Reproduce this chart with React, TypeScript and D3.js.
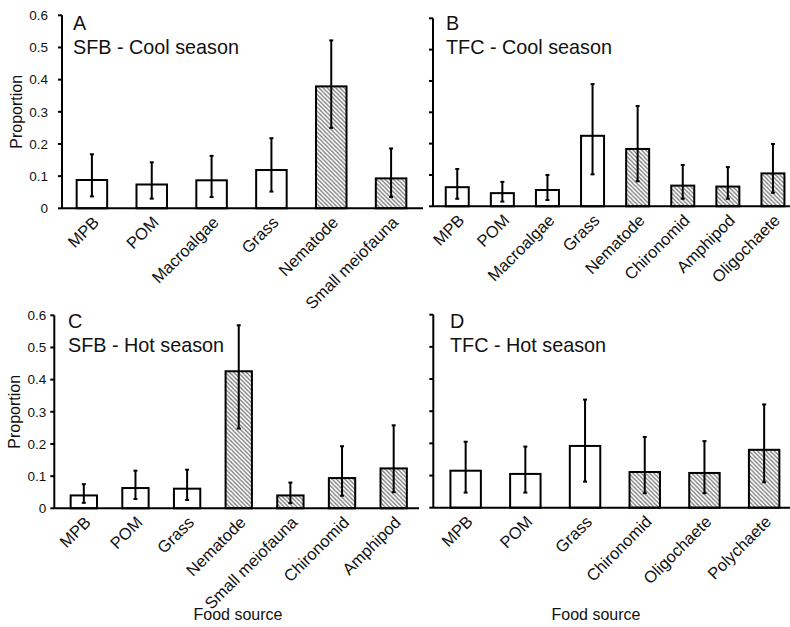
import React from "react";
import * as d3 from "d3";

// ---------- data ----------
const categoriesA = ["MPB", "POM", "Macroalgae", "Grass", "Nematode", "Small meiofauna"];
const valuesA = [0.088, 0.074, 0.087, 0.119, 0.379, 0.093];
const upperA = [0.168, 0.143, 0.163, 0.218, 0.522, 0.186];
const lowerA = [0.037, 0.03, 0.035, 0.052, 0.25, 0.035];
const hatchedA = [false, false, false, false, true, true];

const categoriesB = ["MPB", "POM", "Macroalgae", "Grass", "Nematode", "Chironomid", "Amphipod", "Oligochaete"];
const valuesB = [0.061, 0.042, 0.052, 0.225, 0.183, 0.066, 0.063, 0.105];
const upperB = [0.119, 0.078, 0.1, 0.39, 0.32, 0.132, 0.125, 0.199];
const lowerB = [0.024, 0.015, 0.02, 0.102, 0.08, 0.024, 0.024, 0.043];
const hatchedB = [false, false, false, false, true, true, true, true];

const categoriesC = ["MPB", "POM", "Grass", "Nematode", "Small meiofauna", "Chironomid", "Amphipod"];
const valuesC = [0.04, 0.063, 0.061, 0.426, 0.04, 0.094, 0.124];
const upperC = [0.075, 0.117, 0.12, 0.569, 0.08, 0.193, 0.258];
const lowerC = [0.017, 0.029, 0.026, 0.248, 0.016, 0.039, 0.05];
const hatchedC = [false, false, false, true, true, true, true];

const categoriesD = ["MPB", "POM", "Grass", "Chironomid", "Oligochaete", "Polychaete"];
const valuesD = [0.115, 0.105, 0.192, 0.111, 0.108, 0.18];
const upperD = [0.205, 0.19, 0.336, 0.22, 0.207, 0.321];
const lowerD = [0.047, 0.047, 0.081, 0.045, 0.045, 0.079];
const hatchedD = [false, false, false, true, true, true];

const yTicks = [0, 0.1, 0.2, 0.3, 0.4, 0.5, 0.6];
const yTickLabels = ["0", "0.1", "0.2", "0.3", "0.4", "0.5", "0.6"];

const FONT = "'Liberation Sans', Arial, sans-serif";

type PanelSpec = {
  letter: string;
  title: string;
  cats: string[];
  vals: number[];
  hi: number[];
  lo: number[];
  hatch: boolean[];
  axisX: number;
  bandRange: [number, number];
  axisEnd: number;
  y0: number;
  yTop: number;
  showTickLabels: boolean;
  showYTitle: boolean;
  showXTitle: boolean;
  letterX: number;
  letterY: number;
  xTitleX: number;
  yTitleX: number;
};

const panels: PanelSpec[] = [
  {
    letter: "A", title: "SFB - Cool season",
    cats: categoriesA, vals: valuesA, hi: upperA, lo: lowerA, hatch: hatchedA,
    axisX: 62, bandRange: [62, 421], axisEnd: 423, y0: 208.3, yTop: 15.3,
    showTickLabels: true, showYTitle: true, showXTitle: false,
    letterX: 73, letterY: 30, xTitleX: 0, yTitleX: 22,
  },
  {
    letter: "B", title: "TFC - Cool season",
    cats: categoriesB, vals: valuesB, hi: upperB, lo: lowerB, hatch: hatchedB,
    axisX: 433, bandRange: [434.7, 795.5], axisEnd: 795, y0: 206.3, yTop: 18.3,
    showTickLabels: false, showYTitle: false, showXTitle: false,
    letterX: 446, letterY: 30, xTitleX: 0, yTitleX: 0,
  },
  {
    letter: "C", title: "SFB - Hot season",
    cats: categoriesC, vals: valuesC, hi: upperC, lo: lowerC, hatch: hatchedC,
    axisX: 54.3, bandRange: [58, 419.5], axisEnd: 419, y0: 508.3, yTop: 315.3,
    showTickLabels: true, showYTitle: true, showXTitle: true,
    letterX: 68, letterY: 328, xTitleX: 238, yTitleX: 20,
  },
  {
    letter: "D", title: "TFC - Hot season",
    cats: categoriesD, vals: valuesD, hi: upperD, lo: lowerD, hatch: hatchedD,
    axisX: 433.3, bandRange: [435.8, 794], axisEnd: 795, y0: 507.7, yTop: 314.7,
    showTickLabels: false, showYTitle: false, showXTitle: true,
    letterX: 450, letterY: 328, xTitleX: 596, yTitleX: 0,
  },
];

function Panel({ p }: { p: PanelSpec }) {
  const x = d3.scaleBand<string>().domain(p.cats).range(p.bandRange).paddingInner(0.49).paddingOuter(0.245);
  const y = d3.scaleLinear().domain([0, 0.6]).range([p.y0, p.yTop]);
  const bw = x.bandwidth();
  return (
    <g>
      {p.cats.map((c, i) => (
        <rect
          key={"b" + c}
          x={x(c)}
          y={y(p.vals[i])}
          width={bw}
          height={y(0) - y(p.vals[i])}
          fill={p.hatch[i] ? "url(#hatch)" : "#fff"}
          stroke="#000"
          strokeWidth={2}
        />
      ))}
      {p.cats.map((c, i) => {
        const cx = (x(c) as number) + bw / 2;
        return (
          <g key={"e" + c} stroke="#000" strokeWidth={2}>
            <line x1={cx} x2={cx} y1={y(p.lo[i])} y2={y(p.hi[i])} />
            <line x1={cx - 2} x2={cx + 2} y1={y(p.lo[i])} y2={y(p.lo[i])} />
            <line x1={cx - 2} x2={cx + 2} y1={y(p.hi[i])} y2={y(p.hi[i])} />
          </g>
        );
      })}
      <line x1={p.axisX} x2={p.axisX} y1={y(0.6)} y2={y(0)} stroke="#000" strokeWidth={2} />
      {yTicks.map((t, i) => (
        <g key={"t" + t}>
          <line x1={p.axisX - 4} x2={p.axisX} y1={y(t)} y2={y(t)} stroke="#000" strokeWidth={2} />
          {p.showTickLabels && (
            <text
              x={p.axisX - (p.axisX > 60 ? 14 : 8)}
              y={y(t)}
              dy="0.36em"
              textAnchor="end"
              fontSize={13.5}
              fontFamily={FONT}
              fill="#111"
            >
              {yTickLabels[i]}
            </text>
          )}
        </g>
      ))}
      <line x1={p.axisX} x2={p.axisEnd} y1={y(0)} y2={y(0)} stroke="#000" strokeWidth={2} />
      {p.cats.map((c) => {
        const cx = (x(c) as number) + bw / 2;
        return (
          <text
            key={"l" + c}
            transform={`translate(${cx + 4},${y(0) + 11}) rotate(-45)`}
            textAnchor="end"
            dy="0.35em"
            fontSize={16.5}
            fontFamily={FONT}
            fill="#111"
          >
            {c}
          </text>
        );
      })}
      <text x={p.letterX} y={p.letterY} fontSize={19.8} fontFamily={FONT} fill="#111">{p.letter}</text>
      <text x={p.letterX} y={p.letterY + 23.5} fontSize={19.8} fontFamily={FONT} fill="#111">{p.title}</text>
      {p.showYTitle && (
        <text
          transform={`translate(${p.yTitleX},${(y(0) + y(0.6)) / 2})  rotate(-90)`}
          textAnchor="middle"
          fontSize={16}
          fontFamily={FONT}
          fill="#111"
        >
          Proportion
        </text>
      )}
      {p.showXTitle && (
        <text x={p.xTitleX} y={620} textAnchor="middle" fontSize={16} fontFamily={FONT} fill="#111">
          Food source
        </text>
      )}
    </g>
  );
}

export default function App() {
  return (
    <svg
      width={790}
      height={627}
      style={{ position: "absolute", left: 0, top: 0, background: "#fff" }}
    >
      <defs>
        <pattern id="hatch" width={4.2} height={4.2} patternUnits="userSpaceOnUse">
          <rect width={4.2} height={4.2} fill="#fff" />
          <path d="M-1,-1 L5.2,5.2 M-1,3.2 L1,5.2 M3.2,-1 L5.2,1" stroke="#777" strokeWidth={1.3} />
        </pattern>
      </defs>
      <rect width={790} height={627} fill="#fff" />
      {panels.map((p) => (
        <Panel key={p.letter} p={p} />
      ))}
    </svg>
  );
}
